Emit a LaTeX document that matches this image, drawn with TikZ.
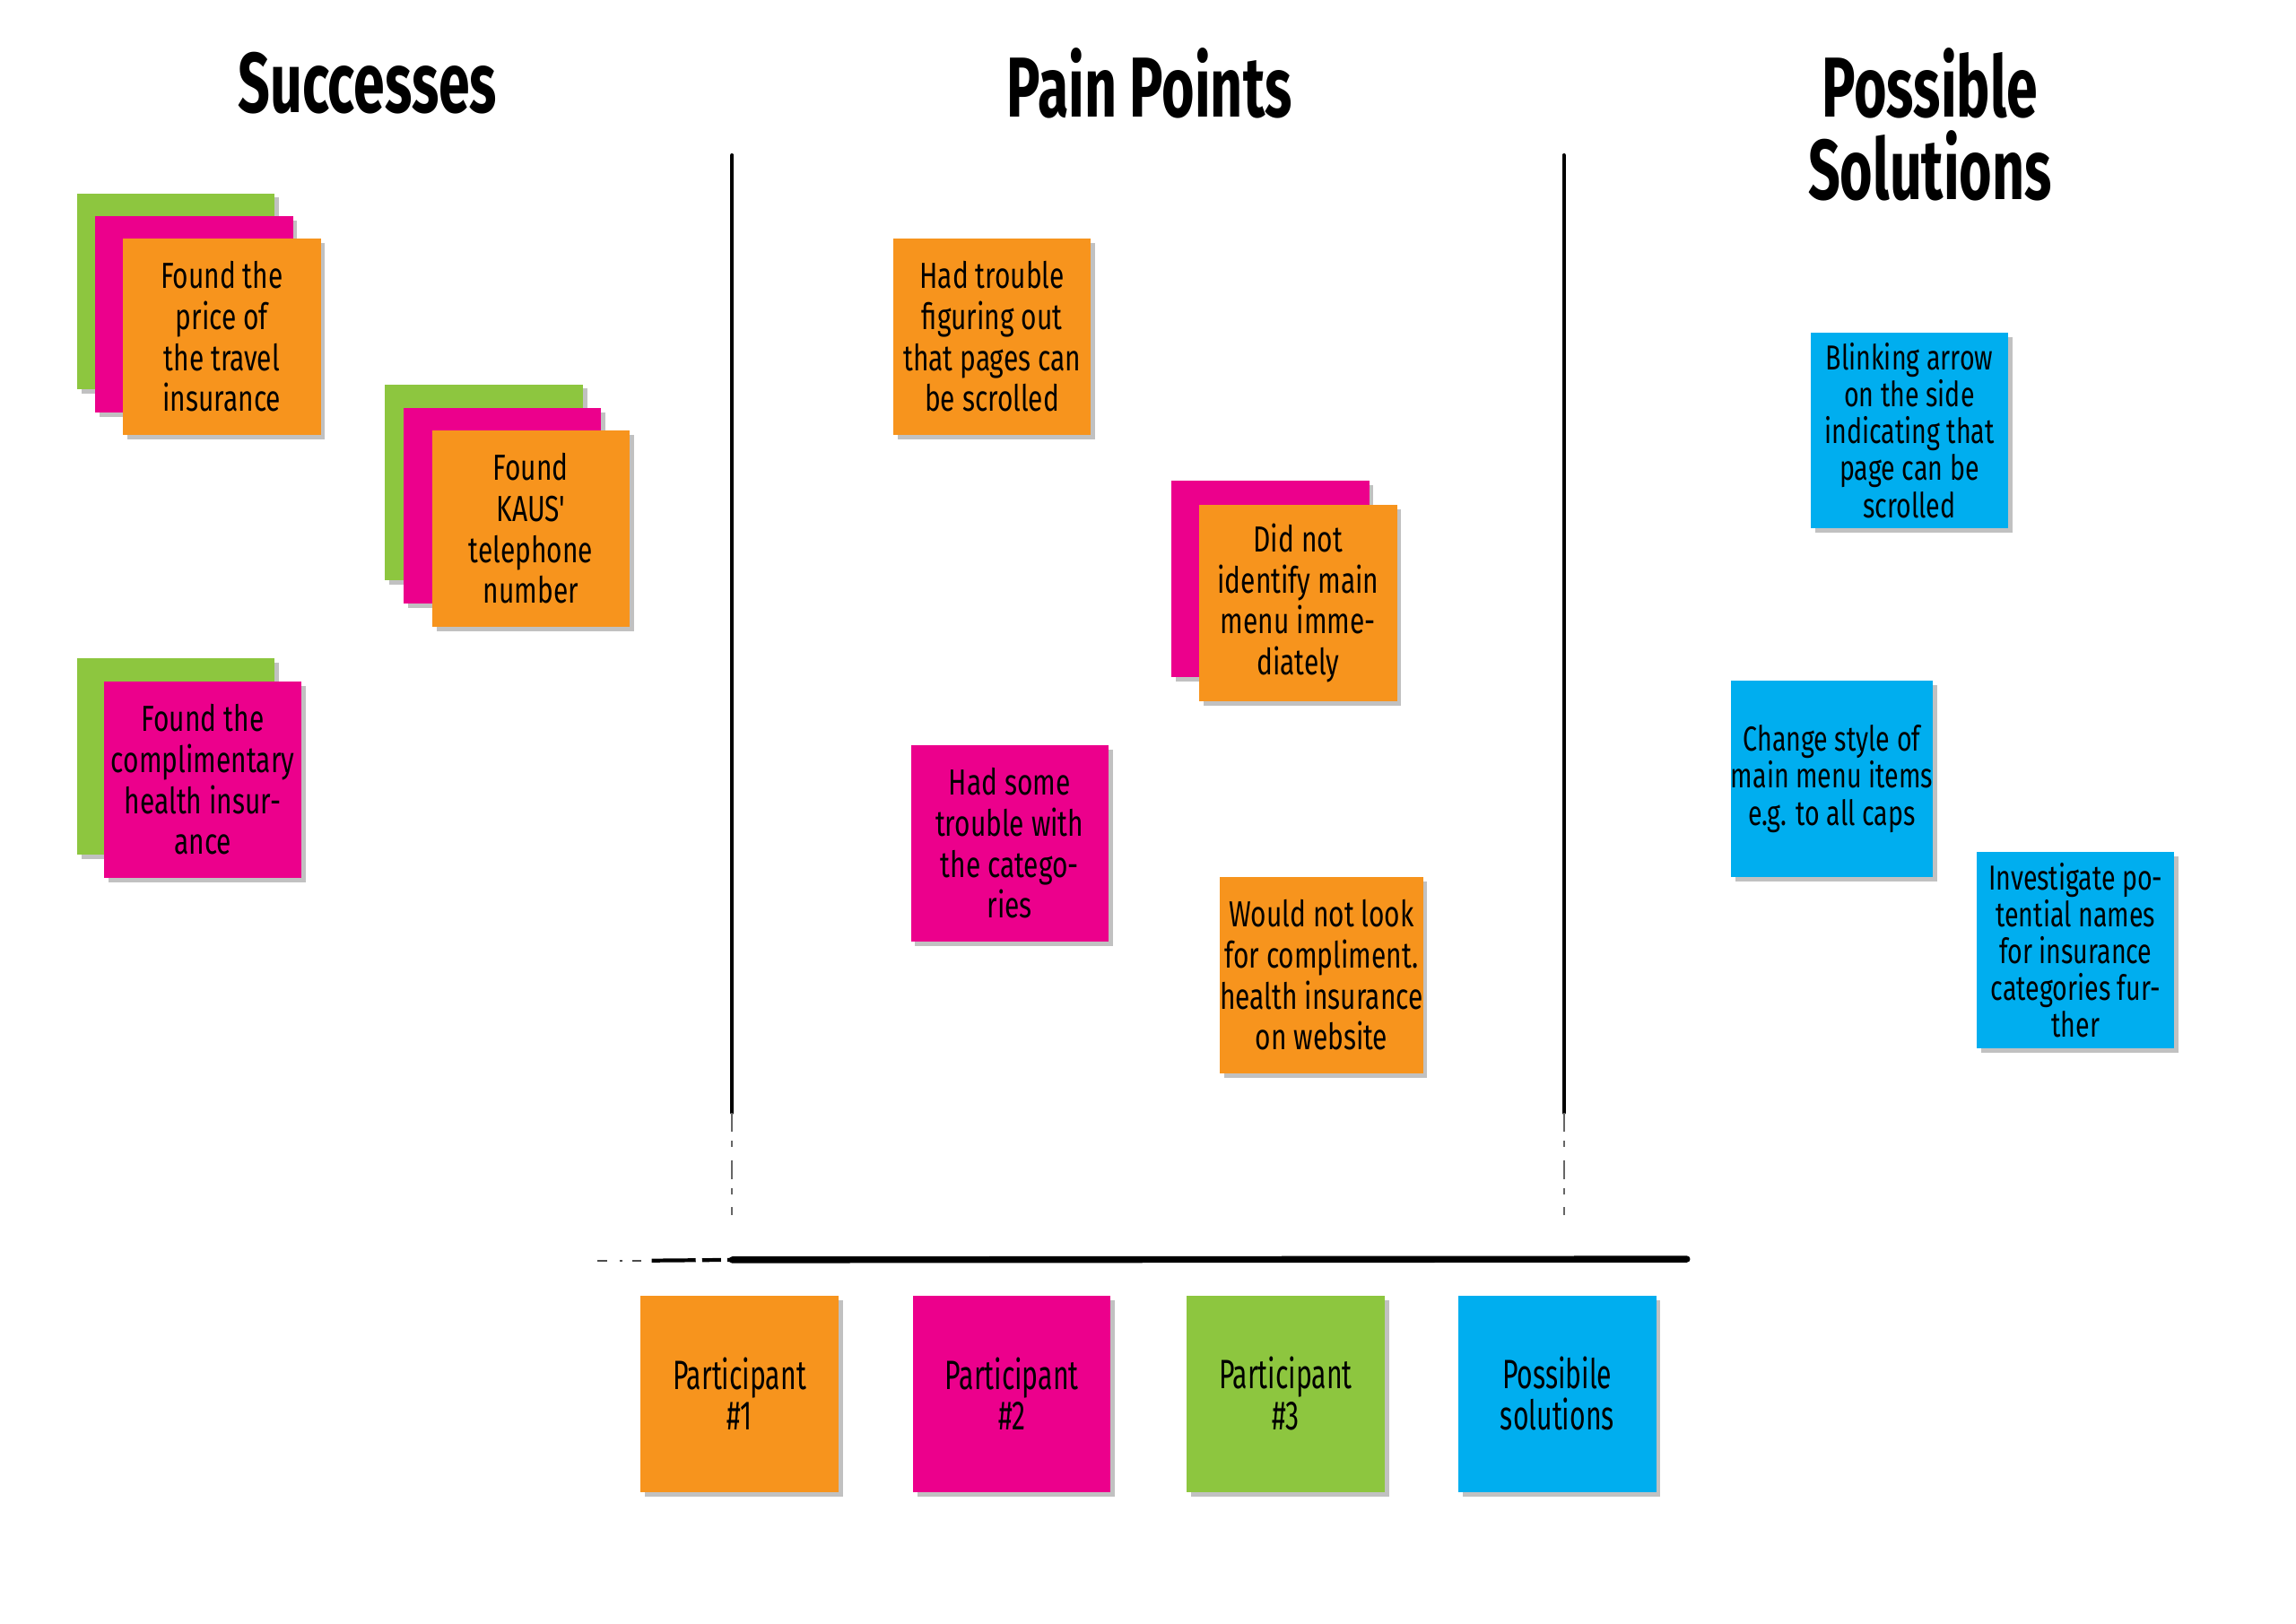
\documentclass[tikz,border=0pt]{standalone}
\usepackage{fontspec}
\newfontfamily\hand[FakeStretch=0.74]{Fira Sans}
\newfontfamily\handleg[FakeStretch=0.66]{Fira Sans}
\newfontfamily\handtitle[FakeStretch=0.66]{Fira Sans}
\usetikzlibrary{shadows}
\definecolor{pOrange}{HTML}{F7941D}
\definecolor{pPink}{HTML}{EC008C}
\definecolor{pGreen}{HTML}{8DC63F}
\definecolor{pBlue}{HTML}{00AEEF}
\begin{document}
\begin{tikzpicture}[x=0.016327cm,y=-0.016327cm,
  note/.style={rectangle, minimum width=2.204cm, minimum height=2.188cm, inner sep=0pt,
    align=center, font=\hand\fontsize{11.5}{13}\selectfont,
    drop shadow={shadow xshift=1.4pt, shadow yshift=-1.4pt, opacity=0.35, fill=black!70}},
  bluenote/.style={note, fill=pBlue, font=\hand\fontsize{11}{11.7}\selectfont},
  legnote/.style={note, font=\handleg\fontsize{13}{13}\selectfont},
  title/.style={align=center, font=\handtitle\bfseries\fontsize{27}{26}\selectfont},
  rule/.style={line width=1.2pt, line cap=round},
  fadedrule/.style={line width=0.5pt, black!60, dash pattern=on 6pt off 3pt on 2pt off 4pt},
  brush/.style={line width=2.1pt, line cap=round}]
\useasboundingbox (0,0) rectangle (1568,1109);

% titles
\node[title] (tSucc) at (251,57) {Successes};
\node[title] (tPain) at (785,57) {Pain Points};
\node[title] (tSol) at (1318,85) {Possible\\Solutions};

% dividing lines
\coordinate (v1t) at (500,106);
\coordinate (v1m) at (500,760);
\coordinate (v1b) at (500,830);
\coordinate (v2t) at (1068,106);
\coordinate (v2m) at (1068,760);
\coordinate (v2b) at (1068,830);
\draw[rule] (v1t) -- (v1m);
\draw[fadedrule] (v1m) -- (v1b);
\draw[rule] (v2t) -- (v2m);
\draw[fadedrule] (v2m) -- (v2b);
\coordinate (h0) at (408,861);
\coordinate (h1) at (445,861);
\coordinate (h2) at (500,860.5);
\coordinate (h3) at (1152,860);
\draw[line width=0.6pt, black!70, dash pattern=on 3pt off 4pt on 1pt off 3pt] (h0) -- (h1);
\draw[line width=1.2pt, dash pattern=on 14pt off 2pt on 6pt off 2pt] (h1) -- (h2);
\draw[brush] (h2) -- (h3);

% Successes
\node[note, fill=pGreen] (s1g) at (120,199) {};
\node[note, fill=pPink] (s1p) at (132.5,214.5) {};
\node[note, fill=pOrange] (s1o) at (151.5,230) {Found the\\price of\\the travel\\insurance};

\node[note, fill=pGreen] (s2g) at (330.5,329.5) {};
\node[note, fill=pPink] (s2p) at (343,345.5) {};
\node[note, fill=pOrange] (s2o) at (362.5,361) {Found\\KAUS'\\telephone\\number};

\node[note, fill=pGreen] (s3g) at (120,516.5) {};
\node[note, fill=pPink] (s3p) at (138.5,532.5) {Found the\\complimentary\\health insur-\\ance};

% Pain points
\node[note, fill=pOrange] (p1) at (677.5,230) {Had trouble\\figuring out\\that pages can\\be scrolled};
\node[note, fill=pPink] (p2p) at (867.5,395.5) {};
\node[note, fill=pOrange] (p2o) at (886.5,412) {Did not\\identify main\\menu imme-\\diately};
\node[note, fill=pPink] (p3) at (689.5,576) {Had some\\trouble with\\the catego-\\ries};
\node[note, fill=pOrange] (p4) at (902.5,666) {Would not look\\for compliment.\\health insurance\\on website};

% Possible solutions
\node[bluenote] (b1) at (1304,294) {Blinking arrow\\on the side\\indicating that\\page can be\\scrolled};
\node[bluenote] (b2) at (1251,532) {Change style of\\main menu items\\e.g. to all caps};
\node[bluenote] (b3) at (1417.5,649) {Investigate po-\\tential names\\for insurance\\categories fur-\\ther};

% Legend
\node[legnote, fill=pOrange] (l1) at (505,952) {Participant\\\#1};
\node[legnote, fill=pPink] (l2) at (691,952) {Participant\\\#2};
\node[legnote, fill=pGreen] (l3) at (878,952) {Participant\\\#3};
\node[legnote, fill=pBlue] (l4) at (1063.5,952) {Possibile\\solutions};
\end{tikzpicture}
\end{document}
